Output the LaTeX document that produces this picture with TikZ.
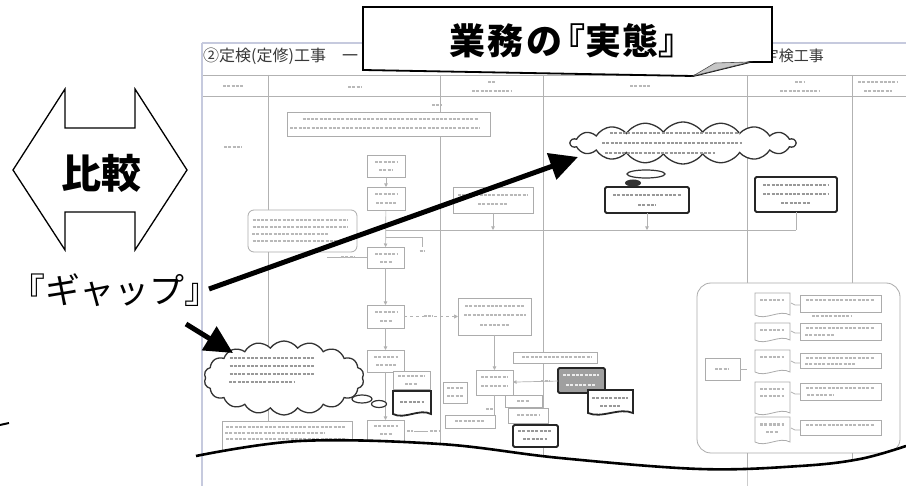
\documentclass[tikz,border=0pt]{standalone}
\usepackage{fontspec}
\newfontfamily\jp{Noto Sans CJK JP}
\usetikzlibrary{arrows.meta,shapes.symbols,shapes.geometric}
\definecolor{docedge}{RGB}{198,202,222}
\tikzset{
  dline/.style={draw=gray!60, line width=0.7pt},
  edgeline/.style={draw=docedge, line width=1.6pt},
  dbox/.style={rectangle, draw=gray!65, line width=0.8pt, fill=white, inner sep=0pt, outer sep=0pt},
  tbox/.style={rectangle, draw=black!85, line width=1.8pt, fill=white, inner sep=0pt, outer sep=0pt, rounded corners=1.5pt},
  tline/.style={draw=black!85, line width=1.8pt, fill=white},
  thinline/.style={draw=gray!65, line width=0.8pt, fill=white},
  blur/.style={draw=gray!55, line width=1.6pt, dash pattern=on 3pt off 1.3pt},
  dblur/.style={draw=gray!80, line width=1.6pt, dash pattern=on 3pt off 1.3pt},
  wblur/.style={draw=gray!15, line width=1.6pt, dash pattern=on 3pt off 1.3pt},
  bigarrow/.style={draw=black, line width=5pt, -{Triangle[length=28pt,width=27pt]}},
  smallarrow/.style={dline, -{Triangle[length=3.5pt,width=3.5pt]}},
  dcloud/.style={cloud, cloud puffs=18, cloud puff arc=110, draw=black!80, line width=1.3pt, fill=white, inner sep=0pt, outer sep=0pt},
  bubble/.style={ellipse, draw=black!80, line width=1.2pt, fill=white, inner sep=0pt},
}
\newcommand\bx[6]{\node[#6, minimum width={#4-#2}, minimum height={#5-#3}] (#1) at ({(#2+#4)/2},{(#3+#5)/2}) {};}
\newcommand\bl[3]{\draw[blur] ({#1-#3/2},#2) -- ++(#3,0);}
\newcommand\bld[3]{\draw[dblur] ({#1-#3/2},#2) -- ++(#3,0);}
\newcommand\docpath[5]{\draw[#5] (#1,#4) -- (#1,#2) -- (#3,#2) -- (#3,#4) .. controls ({#1+0.7*(#3-#1)},{#4-6}) and ({#1+0.3*(#3-#1)},{#4+6}) .. (#1,#4) -- cycle;}
\begin{document}
\begin{tikzpicture}[x=1pt,y=-1pt]
\useasboundingbox (0,0) rectangle (906,486);
% ---------- document ----------
\fill[white] (202,43) rectangle (906,486);
\node[anchor=west, inner sep=0, text=black!78] (title) at (203,56) {\jp\fontsize{16}{18}\selectfont ②定検(定修)工事　一};
\node[anchor=east, inner sep=0, text=black!78] (title2) at (824,56) {\jp\fontsize{15}{18}\selectfont 定検工事};
\draw[edgeline] (202,43) -- (906,43);
\draw[dline] (202,75) -- (906,75);
\draw[dline, line width=1pt] (202,97) -- (906,97);
\foreach \x in {268,440,543} \draw[dline] (\x,75) -- (\x,456);
\foreach \x in {747,852} {\draw[dline] (\x,75) -- (\x,283); \draw[dline] (\x,453) -- (\x,486);}
% header pseudo text
\bl{233}{86}{20} \bl{355}{87}{14} \bl{492}{82}{8} \bl{492}{91}{40}
\bl{640}{86}{20} \bl{800}{82}{10} \bl{800}{91}{40} \bl{878}{82}{40} \bl{878}{91}{28}
% lane 1 / 2
\bl{437}{105}{10}
\bx{w}{287}{112}{490}{136}{dbox}
\bl{390}{119}{175} \bl{385}{128}{190}
\bl{233}{147}{18}
\bx{a}{367}{155}{405}{177}{dbox} \bl{386}{162}{22} \bl{386}{170}{14}
\bx{b}{367}{187}{405}{210}{dbox} \bl{386}{194}{22} \bl{386}{203}{20}
\draw[smallarrow] (a) -- (b);
\bx{lr}{248}{210}{357}{252}{dbox, rounded corners=6pt}
\bl{300}{220}{95} \bl{300}{227}{95} \bl{290}{234}{76} \bl{300}{241}{95}
% lane 3-5 upper
\bx{c}{453}{187}{533}{213}{dbox} \bl{493}{195}{70} \bl{493}{204}{30}
\bx{d}{605}{187}{689}{213}{tbox} \bld{647}{195}{68} \bld{647}{205}{18}
\bx{e}{755}{177}{837}{212}{tbox} \bld{796}{185}{66} \bld{796}{194}{66} \bld{796}{203}{30}
\coordinate (m0) at (385.5,230);
\coordinate (m1) at (796,230);
\draw[dline] (m0) -- (m1);
\draw[dline] (e.south) -- (e.south |- m1);
\draw[smallarrow] (c.south) -- (c.south |- m1);
\draw[smallarrow] (d.south) -- (d.south |- m1);
\node[dcloud, minimum width=225, minimum height=42] (cl1) at (683,143) {};
\bld{675}{133}{130} \bld{672}{143}{140} \bld{660}{153}{110}
\node[fill=black!80, ellipse, minimum width=16, minimum height=7, inner sep=0] (bb2) at (633,183) {};
\node[bubble, minimum width=38, minimum height=8] (bb1) at (646,174) {};
% lane 2 middle
\bx{f}{367}{247}{404}{268}{dbox} \bl{386}{254}{22} \bl{386}{262}{12}
\draw[smallarrow] (b) -- (f);
\draw[dline] (385.5,237) -- (422,237) -- (422,247);
\bl{422}{251}{5}
\coordinate (lrl) at (327,257);
\draw[dline] (lrl) -- (f.west |- lrl);
\bl{348}{257}{14}
\bx{g}{367}{305}{404}{328}{dbox} \bl{386}{312}{22} \bl{386}{321}{12}
\draw[smallarrow] (f) -- (g);
\bx{h}{458}{298}{531}{335}{dbox} \bl{495}{306}{60} \bl{495}{315}{62} \bl{495}{325}{30}
\draw[dline, dashed, -{Triangle[length=4pt,width=4pt]}] (g) -- (h);
\bl{428}{316}{9}
\bx{i}{367}{350}{404}{372}{dbox} \bl{386}{357}{24} \bl{386}{365}{20}
\draw[smallarrow] (g) -- (i);
\bx{m}{367}{420}{404}{445}{dbox} \bl{386}{426}{24} \bl{386}{434}{12}
\draw[smallarrow] (i) -- (m);
\bx{j}{393}{371}{430}{389}{dbox} \bl{411}{376}{26} \bl{411}{384}{12}
\docpath{393}{391}{431}{414}{tline} \bld{412}{402}{24}
\bl{410}{431}{6} \draw[dline] (414,431) -- (428,431); \bl{435}{431}{10}
% lane 1 lower
\node[dcloud, minimum width=160, minimum height=74] (cl2) at (284,378) {};
\bld{272}{358}{85} \bld{272}{366}{85} \bld{272}{374}{85} \bld{262}{382}{66}
\node[bubble, minimum width=20, minimum height=8] (bb3) at (362,399) {};
\node[bubble, minimum width=15, minimum height=7] (bb4) at (379,404) {};
\bx{l}{222}{421}{352}{452}{dbox} \bl{286}{427}{120} \bl{275}{433}{100} \bl{286}{439}{120}
% lane 3 lower
\bx{n}{476}{370}{513}{395}{dbox} \bl{494}{377}{26} \bl{494}{386}{26}
\draw[smallarrow] (h) -- (n);
\bx{n2}{443}{382}{467}{403}{dbox} \bl{455}{388}{16} \bl{455}{396}{16}
\bx{o}{445}{415}{495}{428}{dbox} \bl{470}{421}{30}
\draw[dline] (n.south) -- (o.north -| n.south);
\bl{490}{409}{8}
\bx{p}{505}{395}{542}{407}{dbox} \bl{523}{401}{12}
\bx{q}{508}{408}{548}{423}{dbox} \bl{528}{415}{22}
\bx{r}{513}{425}{558}{447}{tbox} \bld{535}{431}{34} \bld{535}{439}{24}
\bx{s}{513}{352}{597}{363}{dbox} \bl{557}{357}{70}
\bx{t}{558}{368}{605}{393}{tbox, fill=gray!75}
\draw[wblur] (563,375) -- ++(36,0); \draw[wblur] (566,385) -- ++(30,0);
\draw[smallarrow] (t) -- (n);
\bl{545}{381}{9}
\docpath{588}{390}{633}{413}{tline} \bld{610}{398}{36} \bld{610}{406}{20}
% lane 5-6 lower
\bx{big}{697}{283}{900}{453}{dbox, rounded corners=14pt}
\bx{sm}{705}{358}{740}{380}{dbox} \bl{722}{369}{14}
\foreach \ya/\yb [count=\k] in {293/315, 323/340, 350/372, 382/413, 417/442}{
  \docpath{755}{\ya}{790}{\yb}{thinline}
  \bl{772}{\ya+7}{24}
}
\bl{772}{389}{24} \bl{772}{396}{24} \bl{772}{425}{24} \bl{772}{432}{12}
\foreach \ya/\yb [count=\k] in {295/312, 323/340, 353/368, 383/400, 420/435}{
  \bx{rb\k}{800}{\ya}{881}{\yb}{dbox}
  \bl{840}{\ya+5}{68}
}
\bl{832}{316}{40} \bl{820}{335}{30} \bl{830}{364}{50} \bl{820}{395}{26}
\foreach \ym/\k in {303/1, 331/2, 361/3, 392/4, 428/5}{
  \coordinate (lc\k) at (791,\ym);
  \draw[dline] (lc\k) -- ++(4,2) -- (rb\k.west |- 0,\ym+2);
}
\coordinate (brc) at (747,369);
\draw[dline] (sm.east) -- (brc);
% ---------- wave cut ----------
\fill[white] plot[smooth, tension=0.6] coordinates {(196,456) (300,441) (440,444) (560,458) (700,469) (800,466) (860,459) (906,446)} -- (906,486) -- (196,486) -- cycle;
\draw[edgeline] (202,43) -- (202,486);
\draw[gray!40, line width=0.6pt] (747,468) -- (747,486);
\draw[black, line width=2.6pt] plot[smooth, tension=0.6] coordinates {(196,456) (300,441) (440,444) (560,458) (700,469) (800,466) (860,459) (906,446)};
\draw[black, line width=2pt] (0,425) -- (9,423);
% ---------- callout ----------
\fill[white] (772,60) rectangle (778,66);
\draw[black, line width=1.8pt, fill=white, line join=miter] (363,7) -- (772,7) -- (772,62) -- (750,62) -- (693,76) -- (363,70) -- cycle;
\filldraw[fill=gray!45, draw=black!70, line width=0.6pt] (693,76) -- (750,62) -- (715,63) -- cycle;
\node[inner sep=0] (jittai) at (572,41) {\jp\bfseries\fontsize{36}{40}\selectfont 業\kern3pt 務\kern3pt の\kern-14pt 『実\kern2pt 態』};
% ---------- left side ----------
\draw[black, line width=1.3pt, line join=miter, fill=white] (13,170) -- (65,89) -- (65,128) -- (135,128) -- (135,89) -- (187,170) -- (135,250) -- (135,212) -- (65,212) -- (65,250) -- cycle;
\node[inner sep=0] (hikaku) at (101,173) {\jp\bfseries\fontsize{40}{44}\selectfont 比較};
\node[inner sep=0] (gap) at (115,290) {\jp\fontsize{35}{40}\selectfont 『ギャップ』};
\coordinate (g1) at (209,289);
\coordinate (t1) at (578,157);
\coordinate (g2) at (186,324);
\coordinate (t2) at (233,353);
\draw[bigarrow] (g1) -- (t1);
\draw[bigarrow] (g2) -- (t2);
\end{tikzpicture}
\end{document}
